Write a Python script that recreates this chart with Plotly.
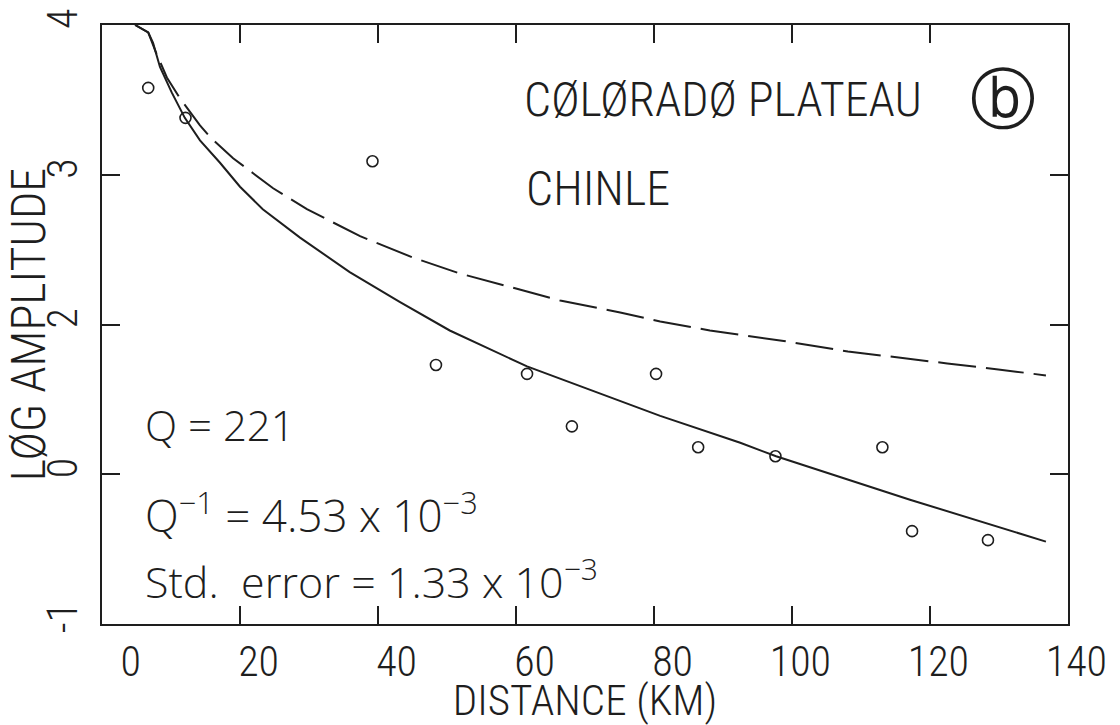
import plotly.graph_objects as go

# ---- data ----
obs_distance_km = [6.7, 12.1, 39.2, 48.4, 61.6, 68.1, 80.3, 86.4, 97.6, 113.1, 117.4, 128.4]
obs_log_amp = [3.58, 3.38, 3.09, 1.73, 1.67, 1.32, 1.67, 1.18, 1.12, 1.18, 0.62, 0.56]

fit_distance_km = [4.8, 6.7, 7.4, 8.4, 10.1, 12.0, 14.2, 17.1, 20.0, 23.3, 28.7, 35.9,
                   43.2, 50.4, 61.6, 72.2, 80.9, 92.5, 97.7, 117.1, 136.8]
fit_log_amp = [4.00, 3.95, 3.88, 3.72, 3.55, 3.38, 3.23, 3.08, 2.92, 2.77, 2.58, 2.35,
               2.15, 1.96, 1.72, 1.54, 1.39, 1.21, 1.12, 0.83, 0.55]

spread_distance_km = [4.8, 6.7, 7.7, 9.4, 11.3, 14.2, 15.7, 19.0, 21.9, 24.8, 29.7, 37.4,
                      44.9, 51.9, 60.0, 66.4, 75.1, 80.9, 88.1, 98.8, 108.1, 115.7,
                      122.5, 129.9, 136.8]
spread_log_amp = [4.00, 3.95, 3.83, 3.65, 3.51, 3.33, 3.25, 3.11, 3.01, 2.91, 2.77, 2.59,
                  2.45, 2.34, 2.24, 2.16, 2.08, 2.02, 1.96, 1.89, 1.82, 1.78,
                  1.74, 1.70, 1.66]

x_tick_values = [0, 20, 40, 60, 80, 100, 120, 140]
x_tick_labels = ["0", "20", "40", "60", "80", "100", "120", "140"]
y_tick_values = [0, 1, 2, 3, 4]
y_tick_labels = ["-1", "0", "2", "3", "4"]

INK = "#1e1e1e"
PLOTTER = "Roboto Condensed, DejaVu Sans Condensed, sans-serif"
PW = 300
LETTER = "Open Sans, Noto Sans, DejaVu Sans, sans-serif"

fig = go.Figure()
fig.add_trace(go.Scatter(x=spread_distance_km, y=spread_log_amp, mode="lines",
                         line=dict(color=INK, width=2, dash="38px,10px"),
                         showlegend=False, hoverinfo="skip"))
fig.add_trace(go.Scatter(x=fit_distance_km, y=fit_log_amp, mode="lines",
                         line=dict(color=INK, width=2),
                         showlegend=False, hoverinfo="skip"))
fig.add_trace(go.Scatter(x=obs_distance_km, y=obs_log_amp, mode="markers",
                         marker=dict(symbol="circle-open", size=11, color=INK,
                                     line=dict(color=INK, width=1.6)),
                         showlegend=False))

axis_common = dict(showline=True, linecolor=INK, linewidth=2, mirror="ticks",
                   ticks="inside", ticklen=18, tickwidth=2, tickcolor=INK,
                   showgrid=False, zeroline=False, automargin=False,
                   tickfont=dict(family=PLOTTER, size=42, color=INK, weight=PW))

fig.update_layout(
    width=1120, height=725,
    margin=dict(l=102, r=52, t=25, b=101),
    paper_bgcolor="white", plot_bgcolor="white",
    xaxis=dict(range=[0, 140], tickvals=x_tick_values, ticktext=x_tick_labels,
               ticklabelposition="outside left", ticklabelshift=41,
               ticklabelstandoff=0,
               title=dict(text="DISTANCE (KM)", standoff=10,
                          font=dict(family=PLOTTER, size=43, color=INK, weight=PW)),
               **axis_common),
    yaxis=dict(range=[0, 4], tickvals=y_tick_values, ticktext=y_tick_labels,
               tickangle=-90, ticklabelstandoff=6,
               title=dict(text="LØG AMPLITUDE", standoff=4,
                          font=dict(family=PLOTTER, size=48, color=INK, weight=PW)),
               **axis_common),
)

fig.add_annotation(x=60.9, y=3.50, xref="x", yref="y", text="CØLØRADØ PLATEAU",
                   showarrow=False, xanchor="left", yanchor="middle",
                   font=dict(family=PLOTTER, size=48, color=INK, weight=PW))
fig.add_annotation(x=130.6, y=3.50, xref="x", yref="y", text="ⓑ",
                   showarrow=False, xanchor="center", yanchor="middle",
                   font=dict(family="DejaVu Sans", size=66, color=INK))
fig.add_annotation(x=61.2, y=2.905, xref="x", yref="y", text="CHINLE",
                   showarrow=False, xanchor="left", yanchor="middle",
                   font=dict(family=PLOTTER, size=48, color=INK, weight=PW))
fig.add_annotation(x=6.0, y=1.33, xref="x", yref="y", text="Q = 221",
                   showarrow=False, xanchor="left", yanchor="middle",
                   font=dict(family=LETTER, size=42, color=INK, weight=300))
fig.add_annotation(x=6.0, y=0.74, xref="x", yref="y",
                   text="Q<sup>−1</sup> = 4.53 x 10<sup>−3</sup>",
                   showarrow=False, xanchor="left", yanchor="middle",
                   font=dict(family=LETTER, size=44, color=INK, weight=300))
fig.add_annotation(x=6.0, y=0.30, xref="x", yref="y",
                   text="Std.  error = 1.33 x 10<sup>−3</sup>",
                   showarrow=False, xanchor="left", yanchor="middle",
                   font=dict(family=LETTER, size=43, color=INK, weight=300))

fig.write_html("out.html")
